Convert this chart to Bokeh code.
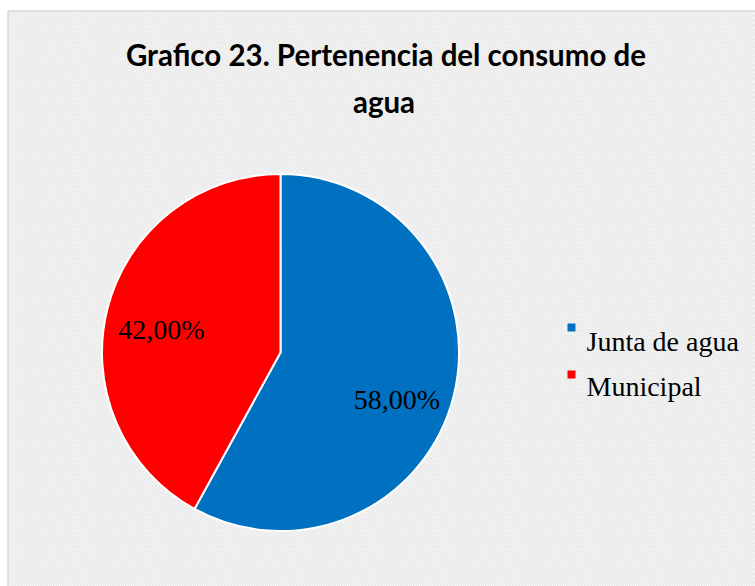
import math
from bokeh.plotting import figure
from bokeh.models import ColumnDataSource, Range1d
from bokeh.core.properties import value
from bokeh.embed import file_html
from bokeh.resources import INLINE

# ---- data ----
categories = ["Junta de agua", "Municipal"]
shares = [58.0, 42.0]
labels = ["58,00%", "42,00%"]
colors = ["#0070C0", "#FF0000"]
title_lines = ["Grafico 23. Pertenencia del consumo de", "agua"]

W, H = 755, 586
p = figure(width=W, height=H, output_backend="svg", toolbar_location=None,
           x_range=Range1d(0, W), y_range=Range1d(0, H), min_border=0)
p.axis.visible = False
p.grid.visible = False
p.outline_line_color = None
p.background_fill_color = "white"
p.border_fill_color = "white"

# hatched chart area with light border
p.quad(left=[7.5], right=[W + 20], bottom=[-20], top=[575.5],
       fill_color="white", hatch_pattern="\\", hatch_color="#e2e2e2",
       hatch_scale=4.5, hatch_weight=1.2, line_color="#d9d9d9", line_width=1.5)

# pie
cx, cy, r = 280, 234, 178.5
total = sum(shares)
starts, ends = [], []
acc = 0.0
for s in shares:
    a0 = math.pi / 2 - 2 * math.pi * acc / total
    acc += s
    a1 = math.pi / 2 - 2 * math.pi * acc / total
    starts.append(a0)
    ends.append(a1)
src = ColumnDataSource(dict(start=starts, end=ends, color=colors, cat=categories))
p.wedge(x=cx, y=cy, radius=r, start_angle="start", end_angle="end",
        direction="clock", fill_color="color", line_color="white",
        line_width=2, source=src)

# data labels
p.text(x=[396.5, 161], y=[187.5, 257], text=labels, text_align="center",
       text_baseline="alphabetic", text_font=value("Liberation Serif"),
       text_font_size="28px", text_color="black")

# legend
p.scatter(x=[571, 571], y=[259, 212], marker="square", size=8,
          fill_color=colors, line_color=None)
p.text(x=[586, 586], y=[245.5, 200], text=categories, text_align="left",
       text_baseline="alphabetic", text_font=value("Liberation Serif"),
       text_font_size="28px", text_color="black")

# title
p.text(x=[385.5, 383.5], y=[532, 485], text=title_lines, text_align="center",
       text_baseline="alphabetic", text_font=value("Lato"),
       text_font_style="bold", text_font_size="29.5px", text_color="black")

open("out.html", "w").write(file_html(p, INLINE))
